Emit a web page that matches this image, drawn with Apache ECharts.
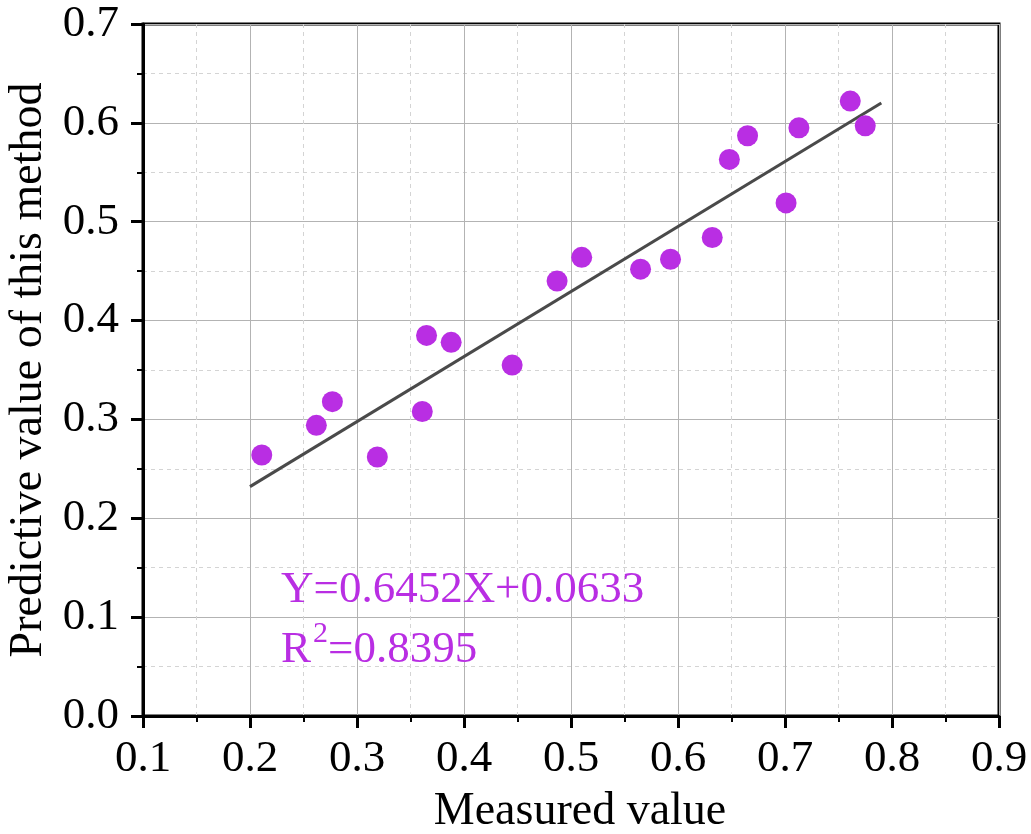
<!DOCTYPE html>
<html>
<head>
<meta charset="utf-8">
<script src="https://cdn.jsdelivr.net/npm/echarts@6/dist/echarts.min.js"></script>
<style>
  html, body { margin: 0; padding: 0; background: #fff; }
  #chart { width: 1031px; height: 834px; }
</style>
</head>
<body>
<div id="chart"></div>
<script>
// measured vs predicted values
var measured  = [0.211, 0.262, 0.277, 0.319, 0.361, 0.365, 0.388, 0.445, 0.487, 0.510,
                 0.565, 0.593, 0.632, 0.648, 0.665, 0.701, 0.713, 0.761, 0.775];
var predicted = [0.264, 0.294, 0.318, 0.262, 0.308, 0.385, 0.378, 0.355, 0.440, 0.464,
                 0.452, 0.462, 0.484, 0.563, 0.587, 0.519, 0.595, 0.622, 0.597];
// fitted line as drawn
var fitX = [0.200, 0.790];
var fitY = [0.232, 0.620];

var eqText = 'Y=0.6452X+0.0633';
var r2Text = '=0.8395';

var purple = '#b92ee3';
var serif = '"Liberation Serif", "Times New Roman", serif';

var points = measured.map(function (x, i) { return [x, predicted[i]]; });
var fitLine = fitX.map(function (x, i) { return [x, fitY[i]]; });

var chart = echarts.init(document.getElementById('chart'));

function axisCommon() {
  return {
    type: 'value',
    interval: 0.1,
    axisLine: { show: true, onZero: false, lineStyle: { color: '#000', width: 3 } },
    axisTick: { show: true, inside: false, length: 12, lineStyle: { color: '#000', width: 3 } },
    minorTick: { show: true, splitNumber: 2, length: 6, lineStyle: { color: '#000', width: 2 } },
    splitLine: { show: true, lineStyle: { color: '#b3b3b3', width: 1 } },
    minorSplitLine: { show: true, lineStyle: { color: '#d4d4d4', width: 1, type: [4, 4] } },
    axisLabel: {
      color: '#000', fontFamily: serif, fontSize: 45,
      formatter: function (v) { return v.toFixed(1); }
    },
    nameLocation: 'middle',
    nameTextStyle: { color: '#000', fontFamily: serif, fontSize: 46 }
  };
}

var xAxis = axisCommon();
xAxis.min = 0.1;
xAxis.max = 0.9;
xAxis.name = 'Measured value';
xAxis.nameGap = 73;
xAxis.nameTextStyle.padding = [0, 0, 0, 18];
xAxis.axisLabel.margin = 21;

var yAxis = axisCommon();
yAxis.min = 0;
yAxis.max = 0.7;
yAxis.name = 'Predictive value of this method';
yAxis.nameGap = 86;
yAxis.axisLabel.margin = 24;

chart.setOption({
  animation: false,
  backgroundColor: '#fff',
  grid: {
    left: 143, right: 32, top: 24, bottom: 118,
    outerBoundsMode: 'none', containLabel: false,
    show: true, borderColor: '#000', borderWidth: 3, backgroundColor: 'transparent'
  },
  xAxis: xAxis,
  yAxis: yAxis,
  series: [
    {
      type: 'line',
      data: fitLine,
      symbol: 'none',
      lineStyle: { color: '#4a4a4a', width: 3 },
      z: 2
    },
    {
      type: 'scatter',
      data: points,
      symbol: 'circle',
      symbolSize: 21,
      itemStyle: { color: purple, opacity: 1 },
      z: 3
    }
  ],
  graphic: [
    { type: 'text', left: 281, top: 568, z: 10,
      style: { text: eqText, fill: purple, font: '45px ' + serif } },
    { type: 'text', left: 281, top: 628, z: 10,
      style: { text: 'R', fill: purple, font: '45px ' + serif } },
    { type: 'text', left: 313, top: 619, z: 10,
      style: { text: '2', fill: purple, font: '30px ' + serif } },
    { type: 'text', left: 328, top: 628, z: 10,
      style: { text: r2Text, fill: purple, font: '45px ' + serif } }
  ]
});
</script>
</body>
</html>
